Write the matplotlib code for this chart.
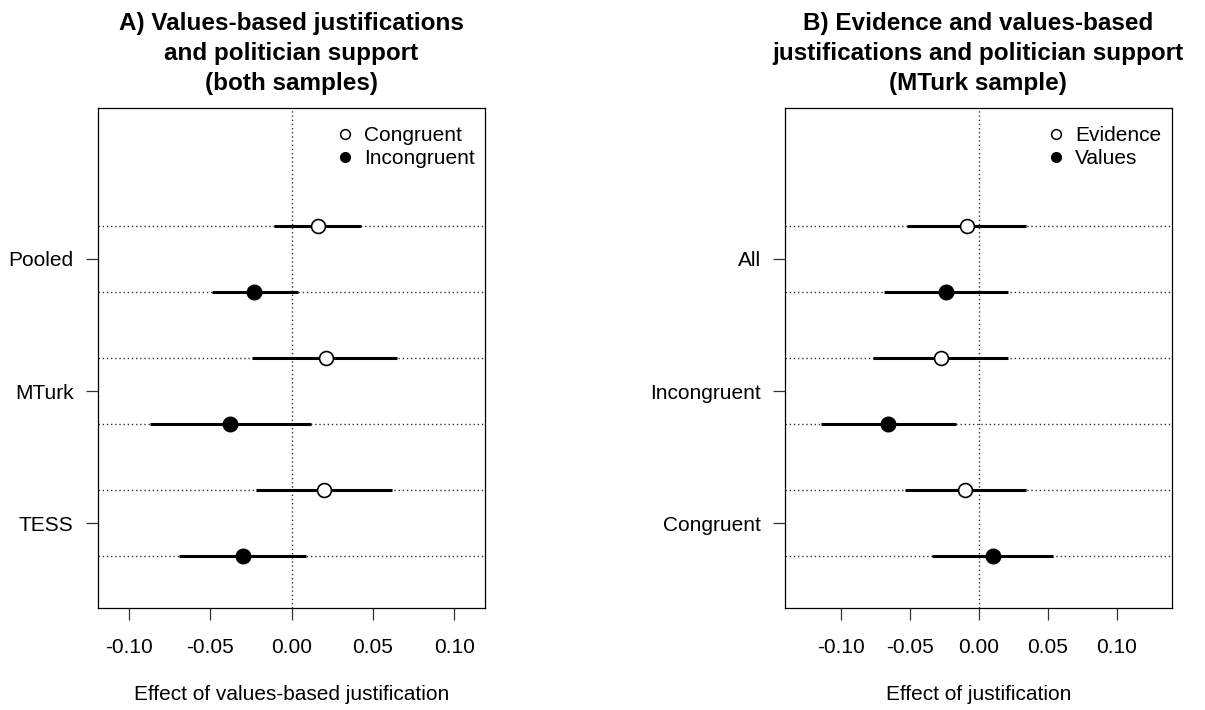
import numpy as np
import matplotlib
matplotlib.use('Agg')
import matplotlib.pyplot as plt
from matplotlib.lines import Line2D

plt.rcParams['font.family'] = ['Liberation Sans', 'DejaVu Sans']
plt.rcParams['axes.unicode_minus'] = False

# panel A: values-based justifications, both samples
labels_a = ["Pooled", "MTurk", "TESS"]
a_cong_est = [0.016, 0.021, 0.020]
a_cong_lo = [-0.011, -0.024, -0.022]
a_cong_hi = [0.043, 0.065, 0.062]
a_incong_est = [-0.023, -0.038, -0.030]
a_incong_lo = [-0.049, -0.087, -0.069]
a_incong_hi = [0.004, 0.012, 0.009]

# panel B: evidence vs values, MTurk sample
labels_b = ["All", "Incongruent", "Congruent"]
b_evid_est = [-0.009, -0.028, -0.010]
b_evid_lo = [-0.052, -0.077, -0.054]
b_evid_hi = [0.034, 0.021, 0.034]
b_val_est = [-0.024, -0.066, 0.010]
b_val_lo = [-0.069, -0.115, -0.034]
b_val_hi = [0.021, -0.017, 0.054]

xticks = [-0.10, -0.05, 0.00, 0.05, 0.10]


def draw_panel(ax, labels, o_est, o_lo, o_hi, f_est, f_lo, f_hi,
               xlim, title, xlabel, leg_names):
    n = len(labels)
    y_open = np.array([2 * (n - i) for i in range(n)])
    y_fill = y_open - 1
    dot = dict(color='#333333', lw=1.0, linestyle=(0, (1, 2)), zorder=1)
    for y in np.concatenate([y_open, y_fill]):
        ax.axhline(y, **dot)
    ax.axvline(0, **dot)
    ax.hlines(y_open, o_lo, o_hi, color='black', lw=2.2, zorder=2)
    ax.hlines(y_fill, f_lo, f_hi, color='black', lw=2.2, zorder=2)
    ax.plot(o_est, y_open, 'o', ms=10, mfc='white', mec='black', mew=1.2,
            zorder=3)
    ax.plot(f_est, y_fill, 'o', ms=10.5, mfc='black', mec='black', zorder=3)

    ax.set_xlim(xlim)
    ax.set_ylim(0.22, 7.78)
    ax.set_xticks(xticks)
    ax.set_xticklabels(["%.2f" % v for v in xticks])
    ax.set_yticks(y_open - 0.5)
    ax.set_yticklabels(labels)
    ax.tick_params(axis='both', labelsize=15, length=8.5, width=0.9,
                   color='#333333')
    ax.tick_params(axis='x', pad=13)
    ax.tick_params(axis='y', pad=9)
    for s in ax.spines.values():
        s.set_linewidth(0.9)
    ax.set_xlabel(xlabel, fontsize=15, labelpad=20)
    ax.set_title(title, fontsize=17.5, fontweight='bold', pad=13,
                 linespacing=1.38)

    handles = [Line2D([], [], marker='o', ls='', ms=7, mfc='white',
                      mec='black', mew=1.1),
               Line2D([], [], marker='o', ls='', ms=7, mfc='black',
                      mec='black')]
    ax.legend(handles, leg_names, loc='upper right', frameon=False,
              fontsize=15, handlelength=0.8, handletextpad=0.5,
              labelspacing=0.2, borderaxespad=0.0, borderpad=0.5,
              bbox_to_anchor=(1.0, 0.985))


fig = plt.figure(figsize=(12.05, 7.1), dpi=100)
ax1 = fig.add_axes([98 / 1205, 102 / 710, 387 / 1205, 500 / 710])
ax2 = fig.add_axes([785 / 1205, 102 / 710, 386.7 / 1205, 500 / 710])

draw_panel(ax1, labels_a, a_cong_est, a_cong_lo, a_cong_hi,
           a_incong_est, a_incong_lo, a_incong_hi, (-0.119, 0.119),
           "A) Values-based justifications\nand politician support\n(both samples)",
           "Effect of values-based justification", ["Congruent", "Incongruent"])
draw_panel(ax2, labels_b, b_evid_est, b_evid_lo, b_evid_hi,
           b_val_est, b_val_lo, b_val_hi, (-0.141, 0.140),
           "B) Evidence and values-based\njustifications and politician support\n(MTurk sample)",
           "Effect of justification", ["Evidence", "Values"])

fig.savefig('out.png', dpi=100)
